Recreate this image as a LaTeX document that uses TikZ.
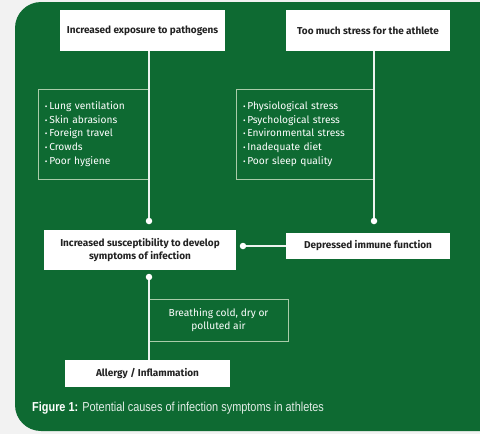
\documentclass[tikz,border=0pt]{standalone}
\usepackage{fontspec}
\setsansfont{Fira Sans}
\newfontfamily\capfont[FakeStretch=0.84]{Liberation Sans}
\definecolor{panelgreen}{HTML}{0E6A32}
\definecolor{boxtext}{HTML}{222222}
\definecolor{framegreen}{HTML}{A9CBA9}
\begin{document}
\begin{tikzpicture}[x=1pt, y=-1pt,
    headbox/.style={fill=white, text=boxtext, font=\sffamily\bfseries\fontsize{10}{13}\selectfont,
        align=center, inner sep=0pt},
    listbox/.style={draw=framegreen, line width=0.8pt, text=white,
        font=\sffamily\fontsize{10.2}{13.6}\selectfont, align=left, inner ysep=0pt, inner xsep=7pt},
    link/.style={draw=white!92!panelgreen, line width=1.2pt},
    joint/.style={fill=white, circle, inner sep=0pt, minimum size=6.5pt}]
    % Page and panel
    \fill[gray!10] (0,0) rectangle (480,434);
    \useasboundingbox (0,0) rectangle (480,434);
    \fill[panelgreen, rounded corners=26pt] (15,2) rectangle (520,431);

    % Cause boxes
    \node[headbox, minimum width=165pt, minimum height=41pt] (expo) at (142.5,30.5) {Increased exposure to pathogens};
    \node[headbox, minimum width=164pt, minimum height=41pt] (stress) at (368,30.5) {Too much stress for the athlete};

    % Lists of factors
    \node[listbox, text width=97pt, minimum height=90pt] (expolist) at (93.5,134) {%
        {\footnotesize\textbullet}\,Lung ventilation\\
        {\footnotesize\textbullet}\,Skin abrasions\\
        {\footnotesize\textbullet}\,Foreign travel\\
        {\footnotesize\textbullet}\,Crowds\\
        {\footnotesize\textbullet}\,Poor hygiene};
    \node[listbox, text width=124pt, minimum height=90pt] (stresslist) at (305,134) {%
        {\footnotesize\textbullet}\,Physiological stress\\
        {\footnotesize\textbullet}\,Psychological stress\\
        {\footnotesize\textbullet}\,Environmental stress\\
        {\footnotesize\textbullet}\,Inadequate diet\\
        {\footnotesize\textbullet}\,Poor sleep quality};

    % Outcome boxes
    \node[headbox, minimum width=192pt, minimum height=40pt] (suscept) at (140,250) {Increased susceptibility to develop\\symptoms of infection};
    \node[headbox, minimum width=164pt, minimum height=26pt] (immune) at (368,246) {Depressed immune function};
    \node[listbox, align=center, inner xsep=0pt, minimum width=139pt, minimum height=42pt] (breath) at (218.5,320) {Breathing cold, dry or\\polluted air};
    \node[headbox, minimum width=165pt, minimum height=27pt] (allergy) at (147.5,373.5) {Allergy / Inflammation};

    % Joints
    \coordinate (j1) at (149,221);
    \coordinate (j2) at (374,221);
    \coordinate (j3) at (243,246);
    \coordinate (j4) at (149,277);

    % Connectors
    \draw[link] (expo.south -| j1) -- (j1);
    \draw[link] (stress.south -| j2) -- (j2);
    \draw[link] (immune.west) -- (j3);
    \draw[link] (j4) -- (allergy.north -| j4);
    \foreach \j in {j1,j2,j3,j4}
        \node[joint] at (\j) {};

    % Caption
    \node[anchor=west, text=white!88!panelgreen, font=\capfont\fontsize{13}{15}\selectfont, inner sep=0pt] (caption) at (32,408)
        {\textbf{\color{white}Figure 1:} Potential causes of infection symptoms in athletes};
\end{tikzpicture}
\end{document}
